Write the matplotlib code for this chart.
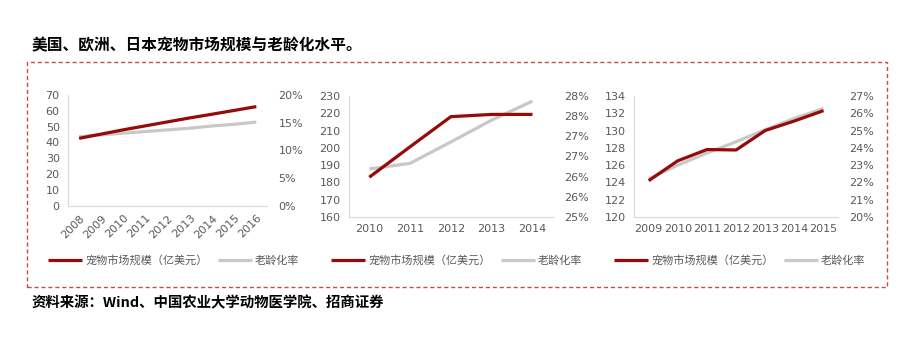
import math
import matplotlib
matplotlib.use('Agg')
import matplotlib.pyplot as plt
from matplotlib.patches import Rectangle
from matplotlib.ticker import FuncFormatter

plt.rcParams['font.family'] = ['Noto Sans CJK SC', 'DejaVu Sans']

title = '美国、欧洲、日本宠物市场规模与老龄化水平。'
source = '资料来源：Wind、中国农业大学动物医学院、招商证券'
label_market = '宠物市场规模（亿美元）'
label_aging = '老龄化率'

# US
us_years = ['2008', '2009', '2010', '2011', '2012', '2013', '2014', '2015', '2016']
us_market = [42.6, 45.3, 48.0, 50.5, 53.0, 55.5, 57.8, 60.2, 62.6]
us_aging = [0.125, 0.128, 0.131, 0.134, 0.137, 0.140, 0.144, 0.147, 0.151]

# Europe
eu_years = ['2010', '2011', '2012', '2013', '2014']
eu_market = [183.0, 200.6, 218.0, 219.3, 219.3]
eu_aging = [0.2619, 0.2633, 0.2686, 0.2740, 0.2787]

# Japan
jp_years = ['2009', '2010', '2011', '2012', '2013', '2014', '2015']
jp_market = [124.2, 126.5, 127.8, 127.75, 130.0, 131.1, 132.3]
jp_aging = [0.222, 0.230, 0.237, 0.2435, 0.2505, 0.257, 0.2627]

RED = '#960a0a'
GRAY = '#c8c8c8'
TXT = '#595959'


def pct_fmt(x, pos):
    # Excel style round-half-up
    return '%d%%' % math.floor(x * 100 + 0.5 + 1e-9)


def panel(fig, rect, years, market, aging, lylim, lstep, rylim, rstep, rotate, leg_x):
    ax = fig.add_axes(rect)
    ax2 = ax.twinx()
    x = list(range(len(years)))
    l1, = ax.plot(x, market, color=RED, lw=2.3, solid_capstyle='butt', zorder=3)
    l2, = ax2.plot(x, aging, color=GRAY, lw=2.3, solid_capstyle='butt', zorder=2)
    ax.set_zorder(ax2.get_zorder() + 1)
    ax.patch.set_visible(False)

    ax.set_xlim(-0.5, len(years) - 0.5)
    ax.set_ylim(*lylim)
    ax2.set_ylim(*rylim)
    n = int(round((lylim[1] - lylim[0]) / lstep))
    ax.set_yticks([lylim[0] + i * lstep for i in range(n + 1)])
    m = int(round((rylim[1] - rylim[0]) / rstep))
    ax2.set_yticks([rylim[0] + i * rstep for i in range(m + 1)])
    ax2.yaxis.set_major_formatter(FuncFormatter(pct_fmt))
    ax.set_xticks(x)
    if rotate:
        ax.set_xticklabels(years, rotation=45, ha='right', rotation_mode='anchor')
    else:
        ax.set_xticklabels(years)

    for a in (ax, ax2):
        for s in a.spines.values():
            s.set_visible(False)
        a.tick_params(length=0, labelsize=8, colors=TXT, labelfontfamily='DejaVu Sans')
    ax.spines['left'].set_visible(True)
    ax.spines['bottom'].set_visible(True)
    ax.spines['left'].set_color('#d9d9d9')
    ax.spines['bottom'].set_color('#d9d9d9')
    ax.tick_params(axis='y', pad=6)
    ax.tick_params(axis='x', pad=5)
    ax2.tick_params(axis='y', pad=8)

    fig.legend([l1, l2], [label_market, label_aging], ncol=2, frameon=False,
               loc='center', bbox_to_anchor=(leg_x, 0.246), fontsize=8,
               handlelength=3.0, columnspacing=1.0, handletextpad=0.3,
               labelcolor=TXT)
    return ax


fig = plt.figure(figsize=(9.23, 3.45), dpi=100)

panel(fig, [0.0737, 0.403, 0.216, 0.322], us_years, us_market, us_aging,
      (0, 70), 10, (0, 0.20), 0.05, True, 174 / 923)
panel(fig, [0.378, 0.371, 0.221, 0.351], eu_years, eu_market, eu_aging,
      (160, 230), 10, (0.25, 0.28), 0.005, False, 457 / 923)
panel(fig, [0.687, 0.371, 0.221, 0.351], jp_years, jp_market, jp_aging,
      (120, 134), 2, (0.20, 0.27), 0.01, False, 740 / 923)

fig.text(32 / 923, 1 - 45 / 345, title, fontsize=11.3, fontweight='bold',
         va='center', ha='left', color='black')
fig.text(32 / 923, 1 - 303 / 345, source, fontsize=10.4, fontweight='bold',
         va='center', ha='left', color='black')

box = Rectangle((27 / 923, 1 - 287 / 345), (887 - 27) / 923, (287 - 62) / 345,
                transform=fig.transFigure, fill=False, edgecolor='#c0504d',
                linestyle=(0, (3, 2)), lw=1.0)
fig.patches.append(box)

fig.savefig('out.png', dpi=100)
